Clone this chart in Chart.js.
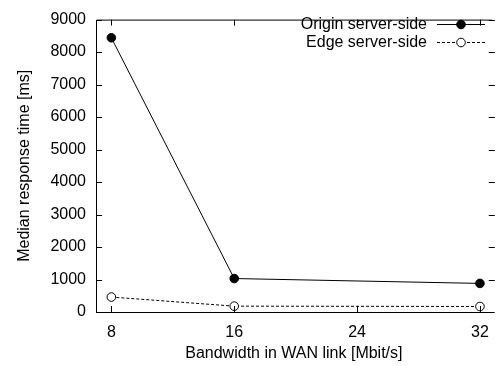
<!DOCTYPE html>
<html>
<head>
<meta charset="utf-8">
<script src="https://cdn.jsdelivr.net/npm/chart.js@4/dist/chart.umd.min.js"></script>
<style>
  html, body { margin: 0; padding: 0; background: #fff; }
  canvas { display: block; }
</style>
</head>
<body>
<canvas id="chart" width="500" height="366"></canvas>
<script>
// bandwidth in WAN link (Mbit/s)
var bandwidth = [8, 16, 32];
// median response times (ms)
var originServer = [8440, 1030, 880];
var edgeServer = [460, 180, 170];
var seriesNames = ['Origin server-side', 'Edge server-side'];
var xTicks = [8, 16, 24, 32];
var yTicks = [0, 1000, 2000, 3000, 4000, 5000, 6000, 7000, 8000, 9000];

var FONT = '"Liberation Sans", Arial, Helvetica, sans-serif';
var FSIZE = 16;

function toPoints(ys) {
  return bandwidth.map(function (x, i) { return { x: x, y: ys[i] }; });
}

// gnuplot style frame, inward ticks and legend
var gnuplotFrame = {
  id: 'gnuplotFrame',
  afterDraw: function (chart) {
    var ctx = chart.ctx;
    var a = chart.chartArea;
    var xs = chart.scales.x, ys = chart.scales.y;
    ctx.save();
    ctx.strokeStyle = '#000';
    ctx.lineWidth = 1;
    ctx.beginPath();
    ctx.moveTo(a.right, a.top + 0.5);
    ctx.lineTo(a.left + 0.5, a.top + 0.5);
    ctx.lineTo(a.left + 0.5, a.bottom + 0.5);
    ctx.lineTo(a.right, a.bottom + 0.5);
    var tl = 6;
    xTicks.forEach(function (v) {
      var px = Math.round(xs.getPixelForValue(v)) + 0.5;
      ctx.moveTo(px, a.bottom);
      ctx.lineTo(px, a.bottom - tl);
      ctx.moveTo(px, a.top);
      ctx.lineTo(px, a.top + tl);
    });
    yTicks.forEach(function (v) {
      var py = Math.round(ys.getPixelForValue(v)) + 0.5;
      ctx.moveTo(a.left, py);
      ctx.lineTo(a.left + tl, py);
      ctx.moveTo(a.right + 3, py);
      ctx.lineTo(a.right + 3 - tl, py);
    });
    ctx.stroke();

    // legend, top right inside the plot
    ctx.font = FSIZE + 'px ' + FONT;
    ctx.textAlign = 'right';
    ctx.textBaseline = 'middle';
    ctx.fillStyle = '#000';
    var textRight = 427, x0 = 437, x1 = 485, mx = 461;
    chart.data.datasets.forEach(function (ds, i) {
      var y = 24 + i * 18;
      ctx.fillText(ds.label, textRight, y + 1);
      ctx.beginPath();
      ctx.setLineDash(ds.borderDash || []);
      ctx.moveTo(x0, y + 0.5);
      ctx.lineTo(x1, y + 0.5);
      ctx.stroke();
      ctx.setLineDash([]);
      ctx.beginPath();
      ctx.arc(mx, y + 0.5, ds.pointRadius, 0, Math.PI * 2);
      ctx.fillStyle = ds.pointBackgroundColor;
      ctx.fill();
      ctx.stroke();
      ctx.fillStyle = '#000';
    });
    ctx.restore();
  }
};

new Chart(document.getElementById('chart'), {
  type: 'line',
  data: {
    datasets: [{
      label                : seriesNames[0],
      data                 : toPoints(originServer),
      borderColor          : '#000',
      borderWidth          : 1,
      pointRadius          : 4.3,
      pointBackgroundColor : '#000',
      pointBorderColor     : '#000',
      pointBorderWidth     : 1,
      fill                 : false,
      tension              : 0,
    }, {
      label                : seriesNames[1],
      data                 : toPoints(edgeServer),
      borderColor          : '#000',
      borderWidth          : 1,
      borderDash           : [3, 2],
      pointRadius          : 4.3,
      pointBackgroundColor : '#fff',
      pointBorderColor     : '#000',
      pointBorderWidth     : 1,
      fill                 : false,
      tension              : 0,
    }],
  },
  options: {
    responsive: false,
    animation: false,
    devicePixelRatio: 1,
    layout: { padding: { top: 12, right: 0, left: 0, bottom: 0 } },
    plugins: {
      legend: { display: false },
      tooltip: { enabled: false },
    },
    scales: {
      x: {
        type: 'linear',
        min: 7,
        max: 32.77,
        afterBuildTicks: function (scale) {
          scale.ticks = xTicks.map(function (v) { return { value: v }; });
        },
        afterFit: function (scale) { scale.height = 54; },
        grid: { display: false, drawTicks: false },
        border: { display: false },
        ticks: {
          color: '#000', font: { family: FONT, size: FSIZE }, padding: 11,
          maxRotation: 0, autoSkip: false,
          callback: function (v) { return String(v); },
        },
        title: {
          display: true,
          text: 'Bandwidth in WAN link [Mbit/s]',
          color: '#000',
          font: { family: FONT, size: FSIZE },
          padding: { top: 2, bottom: 3 },
        },
      },
      y: {
        type: 'linear',
        min: 0,
        max: 9000,
        afterBuildTicks: function (scale) {
          scale.ticks = yTicks.map(function (v) { return { value: v }; });
        },
        afterFit: function (scale) { scale.width = 96; },
        grid: { display: false, drawTicks: false },
        border: { display: false },
        ticks: {
          color: '#000', font: { family: FONT, size: FSIZE }, padding: 10,
          autoSkip: false,
          callback: function (v) { return String(v); },
        },
        title: {
          display: true,
          text: 'Median response time [ms]',
          color: '#000',
          font: { family: FONT, size: FSIZE },
          padding: { top: 15, bottom: 0 },
        },
      },
    },
  },
  plugins: [gnuplotFrame],
});
</script>
</body>
</html>
